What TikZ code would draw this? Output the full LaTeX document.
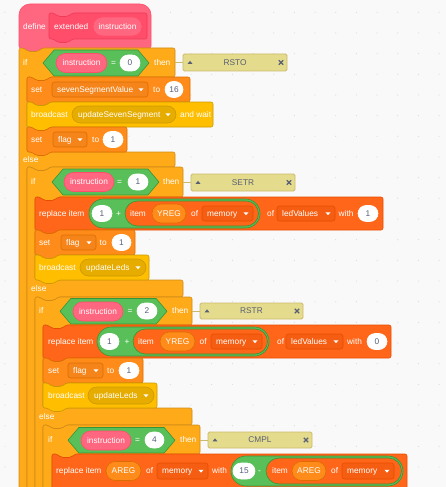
\documentclass[tikz,border=0pt]{standalone}
\usepackage{fontspec}
\setmainfont{Liberation Sans}
\definecolor{ctrlF}{HTML}{FFAB19}\definecolor{ctrlD}{HTML}{CF8B17}
\definecolor{evF}{HTML}{FFBF00}\definecolor{evD}{HTML}{CC9900}\definecolor{evM}{HTML}{E6AC00}
\definecolor{varF}{HTML}{FF8C1A}\definecolor{varD}{HTML}{DB6E00}\definecolor{varM}{HTML}{F5841A}
\definecolor{lstF}{HTML}{FF661A}\definecolor{lstD}{HTML}{E64D00}\definecolor{lstM}{HTML}{F55E12}
\definecolor{opF}{HTML}{59C059}\definecolor{opD}{HTML}{389438}
\definecolor{cbF}{HTML}{FF6680}\definecolor{cbD}{HTML}{FF4D6A}\definecolor{cbI}{HTML}{FF4D6A}\definecolor{cbID}{HTML}{F03A5A}
\definecolor{cmF}{HTML}{E4DB8C}\definecolor{cmD}{HTML}{CDB96A}
\definecolor{txtG}{HTML}{575E75}
\definecolor{bgc}{HTML}{F9F9F9}\definecolor{dotc}{HTML}{DCDCDC}
\newcommand\fs{\fontsize{8.3}{10}\selectfont}
\tikzset{
 lbl/.style={text=white,anchor=west,inner sep=0pt,text height=5.9pt,text depth=0pt,font=\fs},
 clbl/.style={text=white,anchor=center,inner sep=0pt,text height=5.9pt,text depth=0pt,font=\fs},
 ntxt/.style={text=txtG,anchor=center,inner sep=0pt,text height=5.9pt,text depth=0pt,font=\fs},
 blk/.style={line width=0.6,rounded corners=2},
}
\newcommand{\stk}[6]{\draw[blk,fill=#5,draw=#6] (#1,{#2+6}) -- (#1,#2) -- ({#1+5},#2) -- ({#1+9},{#2+3.5}) -- ({#1+19},{#2+3.5}) -- ({#1+23},#2) -- (#3,#2) -- (#3,#4) -- ({#1+23},#4) -- ({#1+19},{#4+3.5}) -- ({#1+9},{#4+3.5}) -- ({#1+5},#4) -- (#1,#4) -- cycle;}
\newcommand{\ifelseblk}[8]{\draw[blk,fill=ctrlF,draw=ctrlD] (#1,{#2+6}) -- (#1,#2) -- ({#1+5},#2) -- ({#1+9},{#2+3.5}) -- ({#1+19},{#2+3.5}) -- ({#1+23},#2) -- (#3,#2) -- (#3,#4) -- ({#5+23},#4) -- ({#5+19},{#4+3.5}) -- ({#5+9},{#4+3.5}) -- ({#5+5},#4) -- (#5,#4) -- (#5,#6) -- (#3,#6) -- (#3,#7) -- ({#5+23},#7) -- ({#5+19},{#7+3.5}) -- ({#5+9},{#7+3.5}) -- ({#5+5},#7) -- (#5,#7) -- (#5,#8) -- (#1,#8) -- cycle;}
\newcommand{\ifblk}[6]{\draw[blk,fill=ctrlF,draw=ctrlD] (#1,{#2+6}) -- (#1,#2) -- ({#1+5},#2) -- ({#1+9},{#2+3.5}) -- ({#1+19},{#2+3.5}) -- ({#1+23},#2) -- (#3,#2) -- (#3,#4) -- ({#5+23},#4) -- ({#5+19},{#4+3.5}) -- ({#5+9},{#4+3.5}) -- ({#5+5},#4) -- (#5,#4) -- (#5,#6) -- (#1,#6) -- cycle;}
\newcommand{\pill}[5]{\pgfmathsetmacro\pillr{abs(#4-#2)/2}\draw[#5,line width=0.6,rounded corners=\pillr pt] (#1,#2) rectangle (#3,#4);}
\newcommand{\numin}[5]{\pill{#1}{#2}{#3}{#4}{fill=white,draw=white}\node[ntxt] at ({(#1+#3)/2},{(#2+#4)/2}) {#5};}
\newcommand{\hexb}[4]{\pgfmathsetmacro\hexh{abs(#4-#2)/2*0.85}\draw[fill=opF,draw=opD,line width=0.6,line join=round] (#1,{(#2+#4)/2}) -- ({#1+\hexh},#2) -- ({#3-\hexh},#2) -- (#3,{(#2+#4)/2}) -- ({#3-\hexh},#4) -- ({#1+\hexh},#4) -- cycle;}
\newcommand{\caret}[2]{\fill[white] ({#1-2.6},{#2-1.2}) -- ({#1+2.6},{#2-1.2}) -- ({#1},{#2+1.6}) -- cycle;}
\newcommand{\ddown}[7]{\draw[fill=#5,draw=#6,line width=0.6,rounded corners=2.5] (#1,#2) rectangle (#3,#4);\node[lbl] at ({#1+5},{(#2+#4)/2}) {#7};\caret{#3-7}{(#2+#4)/2}}
\newcommand{\mpill}[5]{\pill{#1}{#2}{#3}{#4}{fill=evM,draw=evD}\node[lbl] at ({#1+6},{(#2+#4)/2}) {#5};\caret{#3-8}{(#2+#4)/2}}
\newcommand{\argp}[5]{\pill{#1}{#2}{#3}{#4}{fill=cbF,draw=cbD}\node[clbl] at ({(#1+#3)/2},{(#2+#4)/2}) {#5};}
\newcommand{\varp}[5]{\pill{#1}{#2}{#3}{#4}{fill=varF,draw=varD}\node[clbl] at ({(#1+#3)/2},{(#2+#4)/2}) {#5};}
\newcommand{\cmt}[6]{%
\draw[cmD,line width=0.8] (#6,{(#2+#4)/2}) -- (#1,{(#2+#4)/2});
\draw[fill=cmF,draw=cmD,line width=0.8,rounded corners=1.5] (#1,#2) rectangle (#3,#4);
\fill[txtG] ({#1+4.5},{(#2+#4)/2+1.4}) -- ({#1+9.5},{(#2+#4)/2+1.4}) -- ({#1+7},{(#2+#4)/2-1.6}) -- cycle;
\node[ntxt] at ({(#1+#3)/2},{(#2+#4)/2}) {#5};
\draw[txtG,line width=1.2] ({#3-8.2},{(#2+#4)/2-2.2}) -- ({#3-3.8},{(#2+#4)/2+2.2}) ({#3-8.2},{(#2+#4)/2+2.2}) -- ({#3-3.8},{(#2+#4)/2-2.2});}
\begin{document}
\begin{tikzpicture}[x=1pt,y=-1pt]
\useasboundingbox (0,0) rectangle (446,487);
\fill[bgc] (0,0) rectangle (446,487);
\foreach \i in {0,...,21}{\foreach \j in {0,...,23}{\fill[dotc] ({5+20.67*\i},{12.3+20.67*\j}) circle (0.6);}}
% define hat
\draw[fill=cbF,draw=cbD,line width=0.6] (19,30) [rounded corners=11] -- (19,4) -- (151,4) -- (151,30) [rounded corners=2] -- (151,48) -- (42,48) -- (38,51.5) -- (28,51.5) -- (24,48) -- (19,48) -- cycle;
\stk{49}{13}{147}{39}{cbI}{cbID}
\node[lbl] at (23,27) {define};
\node[lbl] at (54,26.5) {extended};
\argp{93}{17}{142}{36}{instruction}
% if 1
\ifelseblk{19}{48}{175}{77}{27}{152}{167}{495}
\node[lbl] at (23,63) {if};
\hexb{43}{50}{149}{76}
\argp{56}{53.5}{107}{72.5}{instruction}
\node[clbl] at (113.5,63) {=};
\numin{120}{55}{140}{71}{0}
\node[lbl] at (154,63) {then};
\cmt{183}{54}{287}{71}{RSTO}{175}
\stk{27}{77}{190}{102}{varF}{varD}
\node[lbl] at (31,89.5) {set};
\ddown{52}{82}{148}{97}{varM}{varD}{sevenSegmentValue}
\node[lbl] at (153,89.5) {to};
\numin{165}{81.5}{183}{97.5}{16}
\stk{27}{102}{213}{127}{evF}{evD}
\node[lbl] at (31,114.5) {broadcast};
\mpill{72}{106}{176}{123}{updateSevenSegment}
\node[lbl] at (180,114.5) {and wait};
\stk{27}{127}{127}{152}{varF}{varD}
\node[lbl] at (31,139.5) {set};
\ddown{53}{132}{87}{147}{varM}{varD}{flag}
\node[lbl] at (92,139.5) {to};
\numin{103}{131.5}{123}{147.5}{1}
\node[lbl] at (23,160) {else};
% if 2
\ifelseblk{27}{167}{183}{197}{35}{280}{297}{495}
\node[lbl] at (31,182) {if};
\hexb{52}{169}{159}{195}
\argp{64}{172.5}{114}{191.5}{instruction}
\node[clbl] at (119.5,182) {=};
\numin{128}{174}{148}{190}{1}
\node[lbl] at (163,182) {then};
\cmt{191}{174}{295}{191}{SETR}{183}
\stk{35}{197}{383}{230}{lstF}{lstD}
\node[lbl] at (39,213.5) {replace item};
\pill{89}{199}{260}{228}{fill=opF,draw=opD}
\numin{92}{205.5}{112}{221.5}{1}
\node[clbl] at (118.5,213.5) {+};
\pill{125}{201}{258.5}{226}{fill=lstF,draw=opD}
\node[lbl] at (130,213.5) {item};
\varp{152}{204}{186}{223}{YREG}
\node[lbl] at (191,213.5) {of};
\ddown{202}{206}{253}{221}{lstM}{lstD}{memory}
\node[lbl] at (267,213.5) {of};
\ddown{277}{206}{335}{221}{lstM}{lstD}{ledValues}
\node[lbl] at (338.5,213.5) {with};
\numin{358}{205.5}{378}{221.5}{1}
\stk{35}{230}{135}{255}{varF}{varD}
\node[lbl] at (39,242.5) {set};
\ddown{61}{235}{96}{250}{varM}{varD}{flag}
\node[lbl] at (99.5,242.5) {to};
\numin{112}{234.5}{131}{250.5}{1}
\stk{35}{255}{149}{280}{evF}{evD}
\node[lbl] at (39,267.5) {broadcast};
\mpill{80}{259}{146}{276}{updateLeds}
\node[lbl] at (31,289) {else};
% if 3
\ifelseblk{35}{297}{192}{325}{43}{408}{425}{495}
\node[lbl] at (39,311) {if};
\hexb{60}{298.5}{167}{324}
\argp{73}{302}{123}{321}{instruction}
\node[clbl] at (130,311) {=};
\numin{137}{303}{157}{319}{2}
\node[lbl] at (172,311) {then};
\cmt{200}{303}{303}{319}{RSTR}{192}
\stk{43}{325}{391}{358}{lstF}{lstD}
\node[lbl] at (48,341.5) {replace item};
\pill{97}{327}{269}{356}{fill=opF,draw=opD}
\numin{100}{333.5}{119}{349.5}{1}
\node[clbl] at (127,341.5) {+};
\pill{133}{329}{267.5}{354}{fill=lstF,draw=opD}
\node[lbl] at (138,341.5) {item};
\varp{160}{332}{195}{351}{YREG}
\node[lbl] at (199.5,341.5) {of};
\ddown{211}{334}{262}{349}{lstM}{lstD}{memory}
\node[lbl] at (277,341.5) {of};
\ddown{286}{334}{343}{349}{lstM}{lstD}{ledValues}
\node[lbl] at (347,341.5) {with};
\numin{367}{333.5}{387}{349.5}{0}
\stk{43}{358}{143}{383}{varF}{varD}
\node[lbl] at (48,370.5) {set};
\ddown{68}{363}{103}{378}{varM}{varD}{flag}
\node[lbl] at (107,370.5) {to};
\numin{119}{362.5}{139}{378.5}{1}
\stk{43}{383}{157}{408}{evF}{evD}
\node[lbl] at (48,395.5) {broadcast};
\mpill{88}{387}{154}{404}{updateLeds}
\node[lbl] at (39,417) {else};
% if 4
\ifblk{43}{425}{200}{454}{52}{495}
\node[lbl] at (48,440) {if};
\hexb{68}{427.5}{175}{453}
\argp{81}{431}{131}{450}{instruction}
\node[clbl] at (137.5,440) {=};
\numin{145}{432}{164}{448}{4}
\node[lbl] at (180,440) {then};
\cmt{208}{432}{312}{448}{CMPL}{200}
\stk{52}{454}{407}{495}{lstF}{lstD}
\node[lbl] at (56,471) {replace item};
\varp{106}{461.5}{141}{480.5}{AREG}
\node[lbl] at (146,471) {of};
\ddown{157}{463}{208}{479}{lstM}{lstD}{memory}
\node[lbl] at (212,471) {with};
\pill{231}{456}{403}{486}{fill=opF,draw=opD}
\numin{233}{463}{255}{479}{15}
\node[clbl] at (259.5,471) {-};
\pill{266}{458}{401.5}{484}{fill=lstF,draw=opD}
\node[lbl] at (272,471) {item};
\varp{292}{461.5}{326}{480.5}{AREG}
\node[lbl] at (331,471) {of};
\ddown{342}{463}{394}{479}{lstM}{lstD}{memory}
\end{tikzpicture}
\end{document}
